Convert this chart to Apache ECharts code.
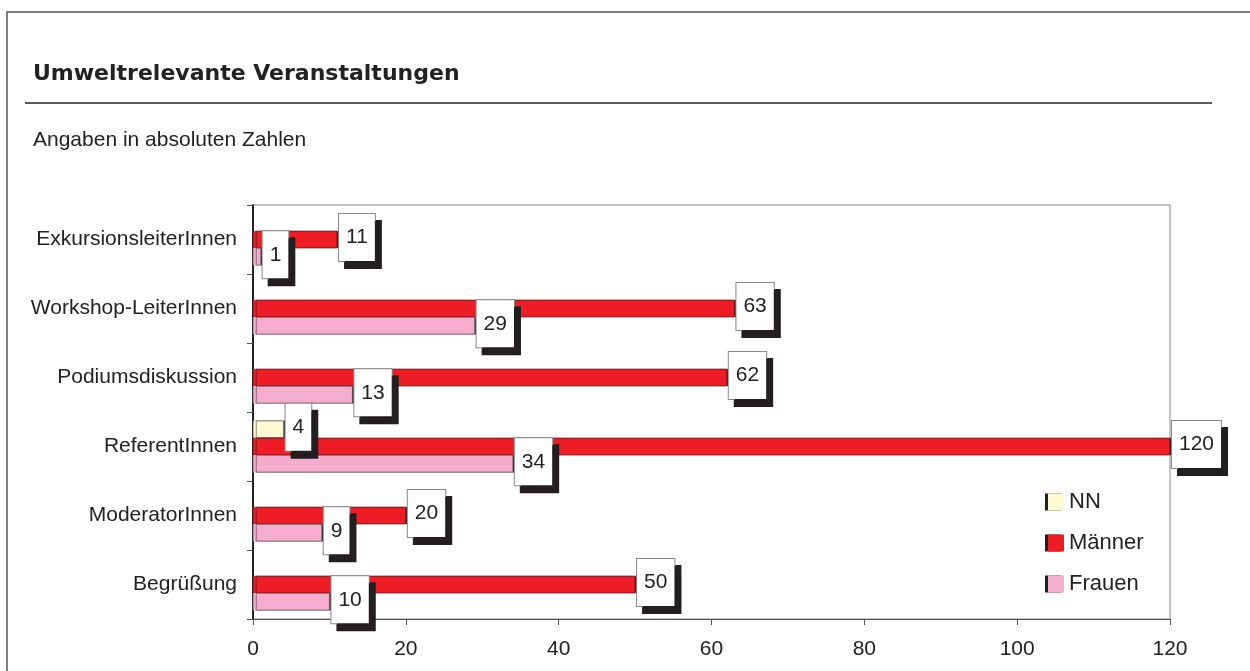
<!DOCTYPE html>
<html>
<head>
<meta charset="utf-8">
<script src="https://cdn.jsdelivr.net/npm/echarts@6/dist/echarts.min.js"></script>
<style>
  html, body { margin: 0; padding: 0; background: #fff; }
  #main { width: 1250px; height: 671px; }
</style>
</head>
<body>
<div id="main"></div>
<script>
// categories from bottom to top, as echarts draws a category yAxis
const categories = ['Begrüßung', 'ModeratorInnen', 'ReferentInnen', 'Podiumsdiskussion', 'Workshop-LeiterInnen', 'ExkursionsleiterInnen']
const nn = [null, null, 4, null, null, null]
const maenner = [50, 20, 120, 62, 63, 11]
const frauen = [10, 9, 34, 13, 29, 1]
const xTicks = { min: 0, max: 120, interval: 20 }

const font = 'Liberation Sans, Arial, sans-serif'

const labelBox = {
  show: true,
  position: 'right',
  distance: 2,
  offset: [0, -2],
  color: '#222',
  fontFamily: font,
  fontSize: 21,
  backgroundColor: '#fff',
  borderColor: '#888',
  borderWidth: 1,
  padding: [13, 7],
  shadowColor: '#231f20',
  shadowBlur: 0,
  shadowOffsetX: 6,
  shadowOffsetY: 7
}

function barSeries(name, data, color, border) {
  return {
    name: name,
    type: 'bar',
    data: data,
    barGap: '0%',
    barCategoryGap: '25%',
    itemStyle: {
      color: color,
      borderColor: border,
      borderWidth: 0.5,
      shadowColor: '#231f20',
      shadowBlur: 0,
      shadowOffsetX: 3
    },
    label: labelBox
  }
}

const option = {
  animation: false,
  graphic: [
    {
      type: 'rect',
      shape: { x: 7, y: 12, width: 1300, height: 700 },
      style: { fill: 'none', stroke: '#555', lineWidth: 1.5 }
    },
    {
      type: 'text',
      left: 33,
      top: 63,
      style: { text: 'Umweltrelevante Veranstaltungen', font: 'bold 22px DejaVu Sans', fill: '#222' }
    },
    {
      type: 'line',
      shape: { x1: 25, y1: 103, x2: 1212, y2: 103 },
      style: { stroke: '#222', lineWidth: 1.5 }
    },
    {
      type: 'text',
      left: 33,
      top: 130,
      style: { text: 'Angaben in absoluten Zahlen', font: '21px Liberation Sans', fill: '#222' }
    }
  ],
  grid: {
    left: 253,
    right: 80,
    top: 205,
    bottom: 52,
    show: true,
    borderColor: '#888',
    borderWidth: 1
  },
  legend: {
    orient: 'vertical',
    left: 1043,
    top: 486,
    itemWidth: 16,
    itemHeight: 17,
    itemGap: 19,
    icon: 'rect',
    itemStyle: { shadowColor: '#231f20', shadowBlur: 0, shadowOffsetX: -3, borderWidth: 0 },
    textStyle: { fontFamily: font, fontSize: 22, color: '#222' }
  },
  xAxis: {
    type: 'value',
    min: xTicks.min,
    max: xTicks.max,
    interval: xTicks.interval,
    splitLine: { show: false },
    axisLine: { show: true, lineStyle: { color: '#555', width: 1 } },
    axisTick: { show: true, length: 6, lineStyle: { color: '#555' } },
    axisLabel: { margin: 20, color: '#222', fontFamily: font, fontSize: 21 }
  },
  yAxis: {
    type: 'category',
    data: categories,
    axisLine: { lineStyle: { color: '#222', width: 2 } },
    axisTick: { show: true, length: 6, lineStyle: { color: '#555' } },
    axisLabel: { margin: 16, color: '#222', fontFamily: font, fontSize: 21 }
  },
  // first series sits at the top of each band
  series: [
    barSeries('NN', nn, '#fffad4', '#999'),
    barSeries('Männer', maenner, '#ee1c25', '#b01018'),
    barSeries('Frauen', frauen, '#f5adce', '#c090a5')
  ]
}

const chart = echarts.init(document.getElementById('main'))
chart.setOption(option)
</script>
</body>
</html>
